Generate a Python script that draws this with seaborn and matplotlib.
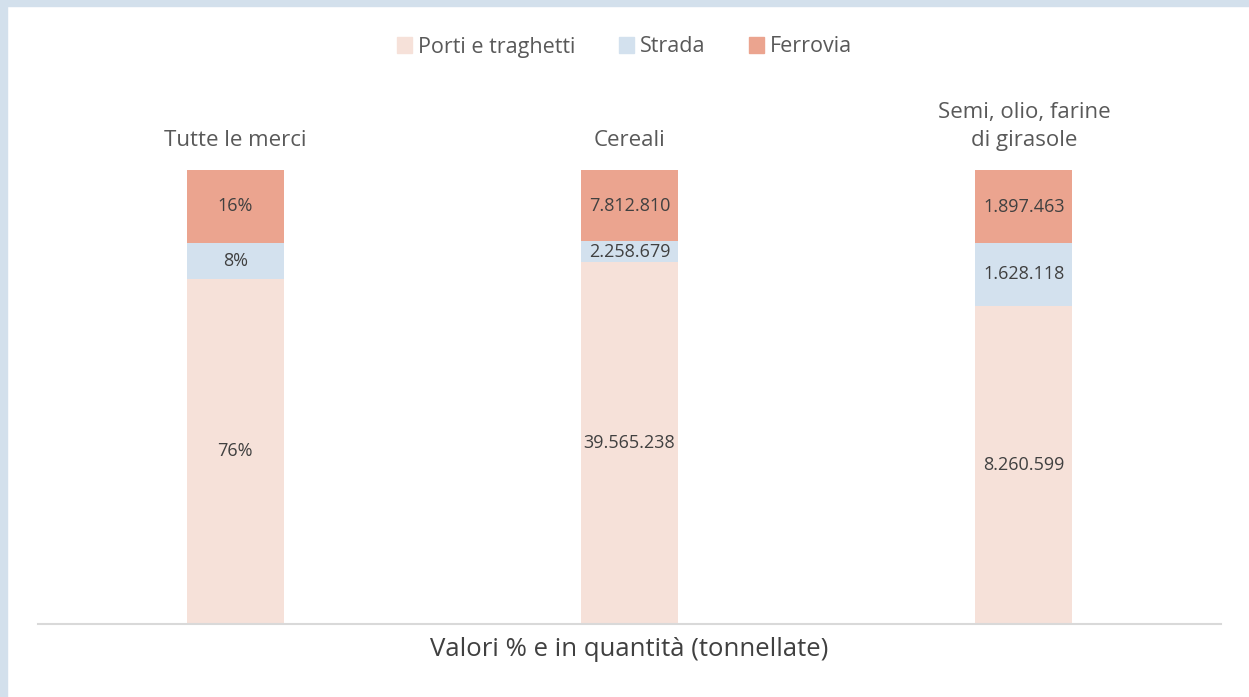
import numpy as np
import pandas as pd
import matplotlib
matplotlib.use("Agg")
import matplotlib.pyplot as plt
import matplotlib.patches as mpatches
import seaborn as sns

# data
categories = ["Tutte le merci", "Cereali", "Semi, olio, farine\ndi girasole"]
porti = [76, 39565238, 8260599]
strada = [8, 2258679, 1628118]
ferrovia = [16, 7812810, 1897463]
label_porti = ["76%", "39.565.238", "8.260.599"]
label_strada = ["8%", "2.258.679", "1.628.118"]
label_ferrovia = ["16%", "7.812.810", "1.897.463"]

series = ["Porti e traghetti", "Strada", "Ferrovia"]
palette = {"Porti e traghetti": "#F6E1D9", "Strada": "#D3E1EE", "Ferrovia": "#EBA48F"}

totals = np.array(porti) + np.array(strada) + np.array(ferrovia)
p_porti = np.array(porti) / totals * 100
p_strada = np.array(strada) / totals * 100
p_ferrovia = np.array(ferrovia) / totals * 100

df = pd.DataFrame({
    "Categoria": categories,
    "Porti e traghetti": p_porti,
    "Strada": p_porti + p_strada,
    "Ferrovia": p_porti + p_strada + p_ferrovia,
})

sns.set_theme(style="white")
plt.rcParams["font.family"] = ["Open Sans", "DejaVu Sans"]

fig = plt.figure(figsize=(12.49, 6.97), dpi=100)
W, H = 1249, 697
ax = fig.add_axes([38 / W, (H - 624) / H, (1221 - 38) / W, (624 - 170) / H])

# cumulative bars drawn back to front
for s in ["Ferrovia", "Strada", "Porti e traghetti"]:
    sns.barplot(data=df, x="Categoria", y=s, color=palette[s], width=0.246,
                saturation=1, ax=ax, linewidth=0)

ax.set_xlim(-0.5, 2.5)
ax.set_ylim(0, 100)
for side in ["top", "right", "left"]:
    ax.spines[side].set_visible(False)
ax.spines["bottom"].set_color("#D9D9D9")
ax.spines["bottom"].set_linewidth(1.5)
ax.set_yticks([])
ax.set_xticks([])
ax.set_ylabel("")
ax.set_xlabel("Valori % e in quantità (tonnellate)", fontsize=18.5, color="#404040", labelpad=9)

# segment labels
txt = "#404040"
for i in range(3):
    ax.text(i, p_porti[i] / 2, label_porti[i], ha="center", va="center", fontsize=13, color=txt)
    ax.text(i, p_porti[i] + p_strada[i] / 2, label_strada[i], ha="center", va="center", fontsize=13, color=txt)
    ax.text(i, p_porti[i] + p_strada[i] + p_ferrovia[i] / 2, label_ferrovia[i], ha="center", va="center", fontsize=13, color=txt)
    # category names above bars
    ax.text(i, 104.2, categories[i], ha="center", va="bottom", fontsize=16, color="#595959",
            linespacing=1.45)

handles = [mpatches.Patch(color=palette[s], label=s) for s in series]
fig.legend(handles=handles, loc="center", bbox_to_anchor=(0.5, 1 - 47 / H), ncol=3,
           frameon=False, fontsize=15.5, handlelength=0.7, handleheight=0.7,
           handletextpad=0.3, columnspacing=2.0, labelcolor="#595959")

# light blue frame on top and left edges
fig.patches.append(mpatches.Rectangle((0, 1 - 6 / H), 1, 6 / H, transform=fig.transFigure,
                                      color="#D3E0EC", zorder=0))
fig.patches.append(mpatches.Rectangle((0, 0), 7 / W, 1, transform=fig.transFigure,
                                      color="#D3E0EC", zorder=0))

fig.savefig("out.png", dpi=100)
